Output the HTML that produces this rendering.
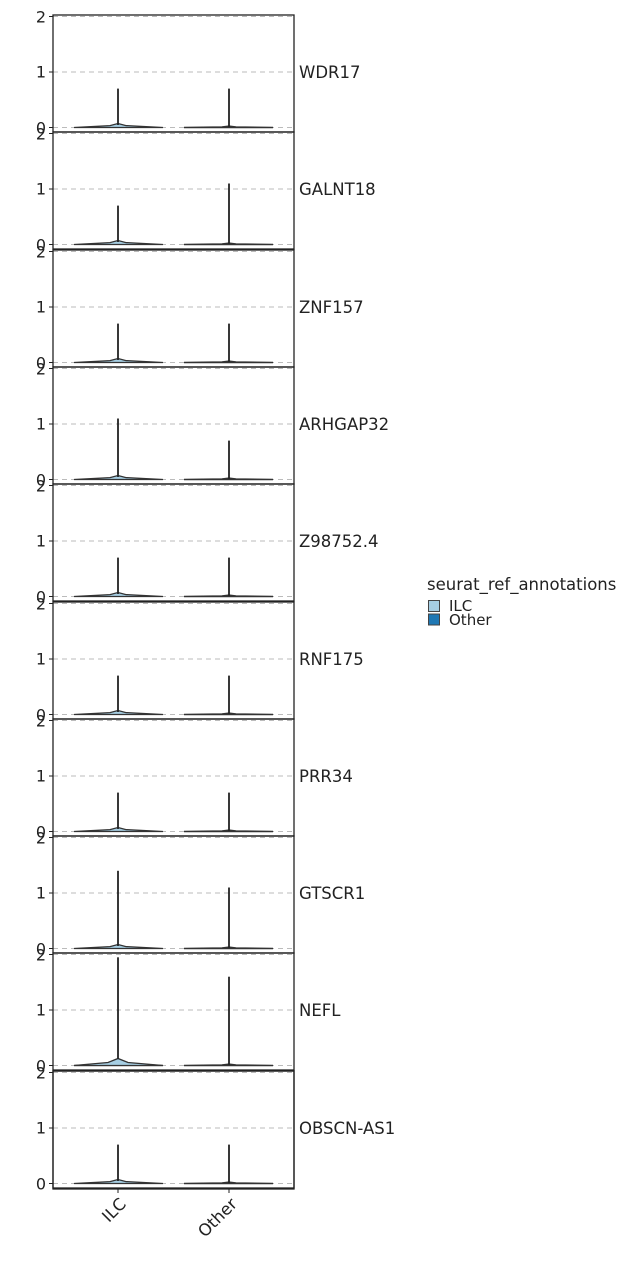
<!DOCTYPE html>
<html><head><meta charset="utf-8"><style>
html,body{margin:0;padding:0;background:#fff}
svg{display:block;font-family:"DejaVu Sans","Liberation Sans",sans-serif}
</style></head><body>
<svg width="640" height="1275" viewBox="0 0 640 1275" xmlns="http://www.w3.org/2000/svg">
<defs>
<g id="grid">
<line x1="53" x2="294" y1="1.5" y2="1.5" stroke="#bbb" stroke-dasharray="5,4"/>
<line x1="53" x2="294" y1="57" y2="57" stroke="#bbb" stroke-dasharray="5,4"/>
<line x1="53" x2="294" y1="112.5" y2="112.5" stroke="#bbb" stroke-dasharray="5,4"/>
<rect x="53" y="0" width="241" height="117" fill="none" stroke="#222" stroke-width="1.3"/>
<line x1="49" x2="53" y1="1.5" y2="1.5" stroke="#222"/>
<line x1="49" x2="53" y1="57" y2="57" stroke="#222"/>
<line x1="49" x2="53" y1="112.5" y2="112.5" stroke="#222"/>
<text x="46" y="7.5" font-size="16" text-anchor="end" fill="#222">2</text>
<text x="46" y="62.5" font-size="16" text-anchor="end" fill="#222">1</text>
<text x="46" y="118.5" font-size="16" text-anchor="end" fill="#222">0</text>
<path d="M74,112.5 L110,110.6 L118,108.5 L126,110.6 L163,112.5 Z" fill="#a6cee3" stroke="#333" stroke-width="1.3"/>
<path d="M184,112.5 L222,112 L229,111.2 L236,112 L273,112.5 Z" fill="#1f78b4" stroke="#333" stroke-width="1.6"/>
</g>
</defs>
<g font-size="16.5" fill="#222">
<g transform="translate(0,15)"><use href="#grid"/><line x1="118" x2="118" y1="73.6" y2="110" stroke="#222" stroke-width="1.8"/><line x1="229" x2="229" y1="73.6" y2="112" stroke="#222" stroke-width="1.8"/><text x="299" y="63">WDR17</text></g>
<g transform="translate(0,132)"><use href="#grid"/><line x1="118" x2="118" y1="73.6" y2="110" stroke="#222" stroke-width="1.8"/><line x1="229" x2="229" y1="51.5" y2="112" stroke="#222" stroke-width="1.8"/><text x="299" y="63">GALNT18</text></g>
<g transform="translate(0,250)"><use href="#grid"/><line x1="118" x2="118" y1="73.6" y2="110" stroke="#222" stroke-width="1.8"/><line x1="229" x2="229" y1="73.6" y2="112" stroke="#222" stroke-width="1.8"/><text x="299" y="63">ZNF157</text></g>
<g transform="translate(0,367)"><use href="#grid"/><line x1="118" x2="118" y1="51.5" y2="110" stroke="#222" stroke-width="1.8"/><line x1="229" x2="229" y1="73.6" y2="112" stroke="#222" stroke-width="1.8"/><text x="299" y="63">ARHGAP32</text></g>
<g transform="translate(0,484)"><use href="#grid"/><line x1="118" x2="118" y1="73.6" y2="110" stroke="#222" stroke-width="1.8"/><line x1="229" x2="229" y1="73.6" y2="112" stroke="#222" stroke-width="1.8"/><text x="299" y="63">Z98752.4</text></g>
<g transform="translate(0,602)"><use href="#grid"/><line x1="118" x2="118" y1="73.6" y2="110" stroke="#222" stroke-width="1.8"/><line x1="229" x2="229" y1="73.6" y2="112" stroke="#222" stroke-width="1.8"/><text x="299" y="63">RNF175</text></g>
<g transform="translate(0,719)"><use href="#grid"/><line x1="118" x2="118" y1="73.6" y2="110" stroke="#222" stroke-width="1.8"/><line x1="229" x2="229" y1="73.6" y2="112" stroke="#222" stroke-width="1.8"/><text x="299" y="63">PRR34</text></g>
<g transform="translate(0,836)"><use href="#grid"/><line x1="118" x2="118" y1="34.8" y2="110" stroke="#222" stroke-width="1.8"/><line x1="229" x2="229" y1="51.5" y2="112" stroke="#222" stroke-width="1.8"/><text x="299" y="63">GTSCR1</text></g>
<g transform="translate(0,953)"><use href="#grid"/><path d="M74,112.5 L108,109.5 L118,105.5 L128,109.5 L163,112.5 Z" fill="#a6cee3" stroke="#333" stroke-width="1.3"/><line x1="118" x2="118" y1="4.3" y2="106" stroke="#222" stroke-width="1.8"/><line x1="229" x2="229" y1="23.7" y2="112" stroke="#222" stroke-width="1.8"/><text x="299" y="63">NEFL</text></g>
<g transform="translate(0,1071)"><use href="#grid"/><line x1="118" x2="118" y1="73.6" y2="110" stroke="#222" stroke-width="1.8"/><line x1="229" x2="229" y1="73.6" y2="112" stroke="#222" stroke-width="1.8"/><text x="299" y="63">OBSCN-AS1</text><rect x="53" y="0" width="241" height="118" fill="none" stroke="#222" stroke-width="1.3"/></g>
<line x1="118" x2="118" y1="1189" y2="1193" stroke="#222"/>
<line x1="229" x2="229" y1="1189" y2="1193" stroke="#222"/>
<text transform="translate(127,1205) rotate(-45)" text-anchor="end">ILC</text>
<text transform="translate(238,1205) rotate(-45)" text-anchor="end">Other</text>
<text x="427" y="590" font-size="16.5">seurat_ref_annotations</text>
<rect x="428.5" y="600.5" width="11" height="11" fill="#a6cee3" stroke="#444"/>
<rect x="428.5" y="614" width="11" height="11" fill="#1f78b4" stroke="#444"/>
<text x="449" y="611" font-size="15">ILC</text>
<text x="449" y="625" font-size="15">Other</text>
</g>
</svg>
</body></html>
